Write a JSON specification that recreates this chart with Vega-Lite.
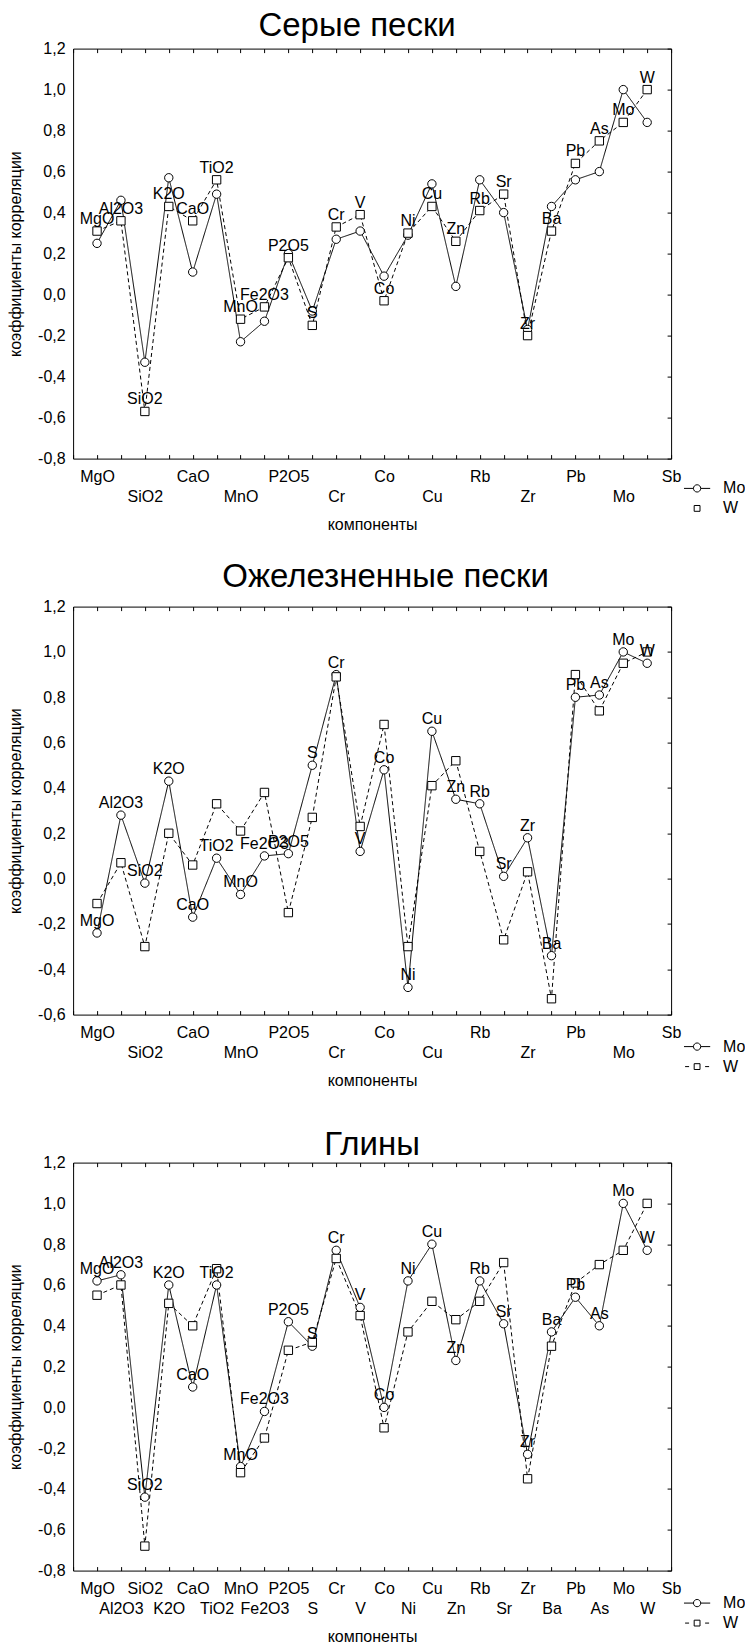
{
  "$schema": "https://vega.github.io/schema/vega-lite/v6.json",
  "background": "white",
  "padding": {"left": 7.1, "top": 9.6, "right": 80, "bottom": 0},
  "autosize": {"type": "pad"},
  "data": {"values": [
    {"p":1,"comp":"MgO","Mo":0.25,"W":0.31},{"p":1,"comp":"Al2O3","Mo":0.46,"W":0.36},{"p":1,"comp":"SiO2","Mo":-0.33,"W":-0.57},{"p":1,"comp":"K2O","Mo":0.57,"W":0.43},{"p":1,"comp":"CaO","Mo":0.11,"W":0.36},{"p":1,"comp":"TiO2","Mo":0.49,"W":0.56},{"p":1,"comp":"MnO","Mo":-0.23,"W":-0.12},{"p":1,"comp":"Fe2O3","Mo":-0.13,"W":-0.06},{"p":1,"comp":"P2O5","Mo":0.2,"W":0.18},{"p":1,"comp":"S","Mo":-0.08,"W":-0.15},{"p":1,"comp":"Cr","Mo":0.27,"W":0.33},{"p":1,"comp":"V","Mo":0.31,"W":0.39},{"p":1,"comp":"Co","Mo":0.09,"W":-0.03},{"p":1,"comp":"Ni","Mo":0.29,"W":0.3},{"p":1,"comp":"Cu","Mo":0.54,"W":0.43},{"p":1,"comp":"Zn","Mo":0.04,"W":0.26},{"p":1,"comp":"Rb","Mo":0.56,"W":0.41},{"p":1,"comp":"Sr","Mo":0.4,"W":0.49},{"p":1,"comp":"Zr","Mo":-0.17,"W":-0.2},{"p":1,"comp":"Ba","Mo":0.43,"W":0.31},{"p":1,"comp":"Pb","Mo":0.56,"W":0.64},{"p":1,"comp":"As","Mo":0.6,"W":0.75},{"p":1,"comp":"Mo","Mo":1.0,"W":0.84},{"p":1,"comp":"W","Mo":0.84,"W":1.0},
    {"p":2,"comp":"MgO","Mo":-0.24,"W":-0.11},{"p":2,"comp":"Al2O3","Mo":0.28,"W":0.07},{"p":2,"comp":"SiO2","Mo":-0.02,"W":-0.3},{"p":2,"comp":"K2O","Mo":0.43,"W":0.2},{"p":2,"comp":"CaO","Mo":-0.17,"W":0.06},{"p":2,"comp":"TiO2","Mo":0.09,"W":0.33},{"p":2,"comp":"MnO","Mo":-0.07,"W":0.21},{"p":2,"comp":"Fe2O3","Mo":0.1,"W":0.38},{"p":2,"comp":"P2O5","Mo":0.11,"W":-0.15},{"p":2,"comp":"S","Mo":0.5,"W":0.27},{"p":2,"comp":"Cr","Mo":0.9,"W":0.89},{"p":2,"comp":"V","Mo":0.12,"W":0.23},{"p":2,"comp":"Co","Mo":0.48,"W":0.68},{"p":2,"comp":"Ni","Mo":-0.48,"W":-0.3},{"p":2,"comp":"Cu","Mo":0.65,"W":0.41},{"p":2,"comp":"Zn","Mo":0.35,"W":0.52},{"p":2,"comp":"Rb","Mo":0.33,"W":0.12},{"p":2,"comp":"Sr","Mo":0.01,"W":-0.27},{"p":2,"comp":"Zr","Mo":0.18,"W":0.03},{"p":2,"comp":"Ba","Mo":-0.34,"W":-0.53},{"p":2,"comp":"Pb","Mo":0.8,"W":0.9},{"p":2,"comp":"As","Mo":0.81,"W":0.74},{"p":2,"comp":"Mo","Mo":1.0,"W":0.95},{"p":2,"comp":"W","Mo":0.95,"W":1.0},
    {"p":3,"comp":"MgO","Mo":0.62,"W":0.55},{"p":3,"comp":"Al2O3","Mo":0.65,"W":0.6},{"p":3,"comp":"SiO2","Mo":-0.44,"W":-0.68},{"p":3,"comp":"K2O","Mo":0.6,"W":0.51},{"p":3,"comp":"CaO","Mo":0.1,"W":0.4},{"p":3,"comp":"TiO2","Mo":0.6,"W":0.68},{"p":3,"comp":"MnO","Mo":-0.29,"W":-0.32},{"p":3,"comp":"Fe2O3","Mo":-0.02,"W":-0.15},{"p":3,"comp":"P2O5","Mo":0.42,"W":0.28},{"p":3,"comp":"S","Mo":0.3,"W":0.32},{"p":3,"comp":"Cr","Mo":0.77,"W":0.73},{"p":3,"comp":"V","Mo":0.49,"W":0.45},{"p":3,"comp":"Co","Mo":0.0,"W":-0.1},{"p":3,"comp":"Ni","Mo":0.62,"W":0.37},{"p":3,"comp":"Cu","Mo":0.8,"W":0.52},{"p":3,"comp":"Zn","Mo":0.23,"W":0.43},{"p":3,"comp":"Rb","Mo":0.62,"W":0.52},{"p":3,"comp":"Sr","Mo":0.41,"W":0.71},{"p":3,"comp":"Zr","Mo":-0.23,"W":-0.35},{"p":3,"comp":"Ba","Mo":0.37,"W":0.3},{"p":3,"comp":"Pb","Mo":0.54,"W":0.61},{"p":3,"comp":"As","Mo":0.4,"W":0.7},{"p":3,"comp":"Mo","Mo":1.0,"W":0.77},{"p":3,"comp":"W","Mo":0.77,"W":1.0}
  ]},
  "spacing": 148,
  "bounds": "flush",
  "vconcat": [
    {
      "width": 598, "height": 410,
      "title": {"text": "Серые пески", "offset": -2.2, "dx": -15},
      "transform": [{"filter": "datum.p == 1"}, {"fold": ["Mo", "W"], "as": ["series", "value"]}],
      "layer": [
        {
          "mark": {"type": "line", "color": "black", "strokeWidth": 1},
          "encoding": {
            "x": {"field": "comp", "type": "nominal",
              "sort": ["MgO","Al2O3","SiO2","K2O","CaO","TiO2","MnO","Fe2O3","P2O5","S","Cr","V","Co","Ni","Cu","Zn","Rb","Sr","Zr","Ba","Pb","As","Mo","W","Sb"],
              "scale": {"type": "point", "padding": 0, "domain": ["_","MgO","Al2O3","SiO2","K2O","CaO","TiO2","MnO","Fe2O3","P2O5","S","Cr","V","Co","Ni","Cu","Zn","Rb","Sr","Zr","Ba","Pb","As","Mo","W","Sb"]},
              "axis": {"orient": "bottom", "title": "компоненты", "titlePadding": 12, "ticks": true, "tickSize": -4, "labelPadding": 14, "labelAngle": 0, "labelOverlap": false, "labelBound": false, "labelLineHeight": 20, "labelBaseline": "top",
                "labelExpr": "indexof('|MgO|CaO|P2O5|Co|Rb|Pb|Sb|', '|' + datum.value + '|') >= 0 ? datum.value : (indexof('|SiO2|MnO|Cr|Cu|Zr|Mo|', '|' + datum.value + '|') >= 0 ? [' ', datum.value] : '')"}},
            "y": {"field": "value", "type": "quantitative",
              "scale": {"domain": [-0.8, 1.2], "nice": false, "zero": false},
              "axis": {"orient": "left", "title": "коэффициенты корреляции", "titlePadding": 14, "ticks": false, "labelPadding": 8, "values": [-0.8,-0.6,-0.4,-0.2,0,0.2,0.4,0.6,0.8,1,1.2],
                "labelExpr": "replace(replace(format(datum.value, '.1f'), '.', ','), '\u2212', '-')"}},
            "strokeDash": {"field": "series", "type": "nominal", "scale": {"domain": ["Mo","W"], "range": [[1,0],[4,3]]}, "legend": null}
          }
        },
        {
          "mark": {"type": "point", "filled": true, "fill": "white", "stroke": "black", "strokeWidth": 1, "size": 70, "opacity": 1},
          "encoding": {
            "x": {"field": "comp", "type": "nominal", "axis": {"orient": "top", "title": null, "labels": false, "ticks": true, "tickSize": -4}},
            "y": {"field": "value", "type": "quantitative", "axis": {"orient": "right", "title": null, "labels": false, "ticks": true, "tickSize": -4, "values": [-0.8,-0.6,-0.4,-0.2,0,0.2,0.4,0.6,0.8,1,1.2]}},
            "shape": {"field": "series", "type": "nominal", "scale": {"domain": ["Mo","W"], "range": ["circle","square"]}, "legend": null}
          }
        },
        {
          "transform": [{"filter": "datum.series == 'W'"}],
          "mark": {"type": "text", "font": "Liberation Sans", "fontSize": 16, "color": "black", "dy": -12, "baseline": "middle"},
          "encoding": {
            "x": {"field": "comp", "type": "nominal", "axis": null},
            "y": {"field": "value", "type": "quantitative", "axis": null},
            "text": {"field": "comp"}
          }
        },
        {
          "transform": [{"filter": "datum.p == 0"}],
          "mark": {"type": "point", "filled": false, "strokeWidth": 1},
          "encoding": {
            "color": {"field": "series", "type": "nominal", "scale": {"domain": ["Mo"], "range": ["black"]},
              "legend": {"orient": "none", "legendX": 616, "legendY": 431.8, "title": null, "symbolType": "M-3.6,0H-1M1,0H3.6M1,0A1,1,0,1,1,-1,0A1,1,0,1,1,1,0", "symbolSize": 53, "symbolStrokeWidth": 1, "symbolOpacity": 1, "labelOffset": 18, "padding": 0, "labelFontSize": 16, "labelFont": "Liberation Sans", "labelColor": "black"}}
          }
        },
        {
          "transform": [{"filter": "datum.p == 0"}],
          "mark": {"type": "point", "filled": false, "strokeWidth": 1},
          "encoding": {
            "fill": {"field": "series", "type": "nominal", "scale": {"domain": ["W"], "range": ["white"]},
              "legend": {"orient": "none", "legendX": 616, "legendY": 451.8, "title": null, "symbolType": "M-0.8,-0.8H0.8V0.8H-0.8Z", "symbolSize": 53, "symbolStrokeColor": "black", "symbolStrokeWidth": 1, "symbolOpacity": 1, "labelOffset": 18, "padding": 0, "labelFontSize": 16, "labelFont": "Liberation Sans", "labelColor": "black"}}
          }
        }
      ],
      "resolve": {"axis": {"x": "independent", "y": "independent"}}
    },
    {
      "width": 598, "height": 408,
      "title": {"text": "Ожелезненные пески", "offset": 4.3, "dx": 13.5},
      "transform": [{"filter": "datum.p == 2"}, {"fold": ["Mo", "W"], "as": ["series", "value"]}],
      "layer": [
        {
          "mark": {"type": "line", "color": "black", "strokeWidth": 1},
          "encoding": {
            "x": {"field": "comp", "type": "nominal",
              "sort": ["MgO","Al2O3","SiO2","K2O","CaO","TiO2","MnO","Fe2O3","P2O5","S","Cr","V","Co","Ni","Cu","Zn","Rb","Sr","Zr","Ba","Pb","As","Mo","W","Sb"],
              "scale": {"type": "point", "padding": 0, "domain": ["_","MgO","Al2O3","SiO2","K2O","CaO","TiO2","MnO","Fe2O3","P2O5","S","Cr","V","Co","Ni","Cu","Zn","Rb","Sr","Zr","Ba","Pb","As","Mo","W","Sb"]},
              "axis": {"orient": "bottom", "title": "компоненты", "titlePadding": 12, "ticks": true, "tickSize": -4, "labelPadding": 14, "labelAngle": 0, "labelOverlap": false, "labelBound": false, "labelLineHeight": 20, "labelBaseline": "top",
                "labelExpr": "indexof('|MgO|CaO|P2O5|Co|Rb|Pb|Sb|', '|' + datum.value + '|') >= 0 ? datum.value : (indexof('|SiO2|MnO|Cr|Cu|Zr|Mo|', '|' + datum.value + '|') >= 0 ? [' ', datum.value] : '')"}},
            "y": {"field": "value", "type": "quantitative",
              "scale": {"domain": [-0.6, 1.2], "nice": false, "zero": false},
              "axis": {"orient": "left", "title": "коэффициенты корреляции", "titlePadding": 14, "ticks": false, "labelPadding": 8, "values": [-0.6,-0.4,-0.2,0,0.2,0.4,0.6,0.8,1,1.2],
                "labelExpr": "replace(replace(format(datum.value, '.1f'), '.', ','), '\u2212', '-')"}},
            "strokeDash": {"field": "series", "type": "nominal", "scale": {"domain": ["Mo","W"], "range": [[1,0],[4,3]]}, "legend": null}
          }
        },
        {
          "mark": {"type": "point", "filled": true, "fill": "white", "stroke": "black", "strokeWidth": 1, "size": 70, "opacity": 1},
          "encoding": {
            "x": {"field": "comp", "type": "nominal", "axis": {"orient": "top", "title": null, "labels": false, "ticks": true, "tickSize": -4}},
            "y": {"field": "value", "type": "quantitative", "axis": {"orient": "right", "title": null, "labels": false, "ticks": true, "tickSize": -4, "values": [-0.6,-0.4,-0.2,0,0.2,0.4,0.6,0.8,1,1.2]}},
            "shape": {"field": "series", "type": "nominal", "scale": {"domain": ["Mo","W"], "range": ["circle","square"]}, "legend": null}
          }
        },
        {
          "transform": [{"filter": "datum.series == 'Mo'"}],
          "mark": {"type": "text", "font": "Liberation Sans", "fontSize": 16, "color": "black", "dy": -12, "baseline": "middle"},
          "encoding": {
            "x": {"field": "comp", "type": "nominal", "axis": null},
            "y": {"field": "value", "type": "quantitative", "axis": null},
            "text": {"field": "comp"}
          }
        },
        {
          "transform": [{"filter": "datum.p == 0"}],
          "mark": {"type": "point", "filled": false, "strokeWidth": 1},
          "encoding": {
            "color": {"field": "series", "type": "nominal", "scale": {"domain": ["Mo"], "range": ["black"]},
              "legend": {"orient": "none", "legendX": 616, "legendY": 432, "title": null, "symbolType": "M-3.6,0H-1M1,0H3.6M1,0A1,1,0,1,1,-1,0A1,1,0,1,1,1,0", "symbolSize": 53, "symbolStrokeWidth": 1, "symbolOpacity": 1, "labelOffset": 18, "padding": 0, "labelFontSize": 16, "labelFont": "Liberation Sans", "labelColor": "black"}}
          }
        },
        {
          "transform": [{"filter": "datum.p == 0"}],
          "mark": {"type": "point", "filled": false, "strokeWidth": 1},
          "encoding": {
            "fill": {"field": "series", "type": "nominal", "scale": {"domain": ["W"], "range": ["white"]},
              "legend": {"orient": "none", "legendX": 616, "legendY": 452, "title": null, "symbolType": "M-3.3,0H-2.2M2.2,0H3.3M-0.8,-0.8H0.8V0.8H-0.8Z", "symbolSize": 53, "symbolStrokeColor": "black", "symbolStrokeWidth": 1, "symbolOpacity": 1, "labelOffset": 18, "padding": 0, "labelFontSize": 16, "labelFont": "Liberation Sans", "labelColor": "black"}}
          }
        }
      ],
      "resolve": {"axis": {"x": "independent", "y": "independent"}}
    },
    {
      "width": 598, "height": 408,
      "title": {"text": "Глины", "offset": -7.4, "dx": 0},
      "transform": [{"filter": "datum.p == 3"}, {"fold": ["Mo", "W"], "as": ["series", "value"]}],
      "layer": [
        {
          "mark": {"type": "line", "color": "black", "strokeWidth": 1},
          "encoding": {
            "x": {"field": "comp", "type": "nominal",
              "sort": ["MgO","Al2O3","SiO2","K2O","CaO","TiO2","MnO","Fe2O3","P2O5","S","Cr","V","Co","Ni","Cu","Zn","Rb","Sr","Zr","Ba","Pb","As","Mo","W","Sb"],
              "scale": {"type": "point", "padding": 0, "domain": ["_","MgO","Al2O3","SiO2","K2O","CaO","TiO2","MnO","Fe2O3","P2O5","S","Cr","V","Co","Ni","Cu","Zn","Rb","Sr","Zr","Ba","Pb","As","Mo","W","Sb"]},
              "axis": {"orient": "bottom", "title": "компоненты", "titlePadding": 12, "ticks": true, "tickSize": -4, "labelPadding": 14, "labelAngle": 0, "labelOverlap": false, "labelBound": false, "labelLineHeight": 20, "labelBaseline": "top",
                "labelExpr": "datum.value == '_' ? '' : (indexof('|MgO|SiO2|CaO|MnO|P2O5|Cr|Co|Cu|Rb|Zr|Pb|Mo|Sb|', '|' + datum.value + '|') >= 0 ? datum.value : [' ', datum.value])"}},
            "y": {"field": "value", "type": "quantitative",
              "scale": {"domain": [-0.8, 1.2], "nice": false, "zero": false},
              "axis": {"orient": "left", "title": "коэффициенты корреляции", "titlePadding": 14, "ticks": false, "labelPadding": 8, "values": [-0.8,-0.6,-0.4,-0.2,0,0.2,0.4,0.6,0.8,1,1.2],
                "labelExpr": "replace(replace(format(datum.value, '.1f'), '.', ','), '\u2212', '-')"}},
            "strokeDash": {"field": "series", "type": "nominal", "scale": {"domain": ["Mo","W"], "range": [[1,0],[4,3]]}, "legend": null}
          }
        },
        {
          "mark": {"type": "point", "filled": true, "fill": "white", "stroke": "black", "strokeWidth": 1, "size": 70, "opacity": 1},
          "encoding": {
            "x": {"field": "comp", "type": "nominal", "axis": {"orient": "top", "title": null, "labels": false, "ticks": true, "tickSize": -4}},
            "y": {"field": "value", "type": "quantitative", "axis": {"orient": "right", "title": null, "labels": false, "ticks": true, "tickSize": -4, "values": [-0.8,-0.6,-0.4,-0.2,0,0.2,0.4,0.6,0.8,1,1.2]}},
            "shape": {"field": "series", "type": "nominal", "scale": {"domain": ["Mo","W"], "range": ["circle","square"]}, "legend": null}
          }
        },
        {
          "transform": [{"filter": "datum.series == 'Mo'"}],
          "mark": {"type": "text", "font": "Liberation Sans", "fontSize": 16, "color": "black", "dy": -12, "baseline": "middle"},
          "encoding": {
            "x": {"field": "comp", "type": "nominal", "axis": null},
            "y": {"field": "value", "type": "quantitative", "axis": null},
            "text": {"field": "comp"}
          }
        },
        {
          "transform": [{"filter": "datum.p == 0"}],
          "mark": {"type": "point", "filled": false, "strokeWidth": 1},
          "encoding": {
            "color": {"field": "series", "type": "nominal", "scale": {"domain": ["Mo"], "range": ["black"]},
              "legend": {"orient": "none", "legendX": 616, "legendY": 432.5, "title": null, "symbolType": "M-3.6,0H-1M1,0H3.6M1,0A1,1,0,1,1,-1,0A1,1,0,1,1,1,0", "symbolSize": 53, "symbolStrokeWidth": 1, "symbolOpacity": 1, "labelOffset": 18, "padding": 0, "labelFontSize": 16, "labelFont": "Liberation Sans", "labelColor": "black"}}
          }
        },
        {
          "transform": [{"filter": "datum.p == 0"}],
          "mark": {"type": "point", "filled": false, "strokeWidth": 1},
          "encoding": {
            "fill": {"field": "series", "type": "nominal", "scale": {"domain": ["W"], "range": ["white"]},
              "legend": {"orient": "none", "legendX": 616, "legendY": 452.5, "title": null, "symbolType": "M-3.3,0H-2.2M2.2,0H3.3M-0.8,-0.8H0.8V0.8H-0.8Z", "symbolSize": 53, "symbolStrokeColor": "black", "symbolStrokeWidth": 1, "symbolOpacity": 1, "labelOffset": 18, "padding": 0, "labelFontSize": 16, "labelFont": "Liberation Sans", "labelColor": "black"}}
          }
        }
      ],
      "resolve": {"axis": {"x": "independent", "y": "independent"}}
    }
  ],
  "resolve": {
    "scale": {"x": "independent", "y": "independent", "shape": "independent", "strokeDash": "independent", "color": "independent", "fill": "independent"},
    "legend": {"shape": "independent", "strokeDash": "independent", "color": "independent", "fill": "independent"}
  },
  "config": {
    "font": "Liberation Sans",
    "view": {"stroke": null},
    "axis": {"labelFont": "Liberation Sans", "labelFontSize": 16, "labelColor": "black", "titleFont": "Liberation Sans", "titleFontSize": 16, "titleFontWeight": "normal", "titleColor": "black", "domainColor": "black", "tickColor": "black", "grid": false, "domainWidth": 1, "tickWidth": 1},
    "title": {"font": "Liberation Sans", "fontSize": 33, "fontWeight": "normal", "color": "black", "anchor": "middle", "frame": "group", "baseline": "alphabetic"}
  }
}
